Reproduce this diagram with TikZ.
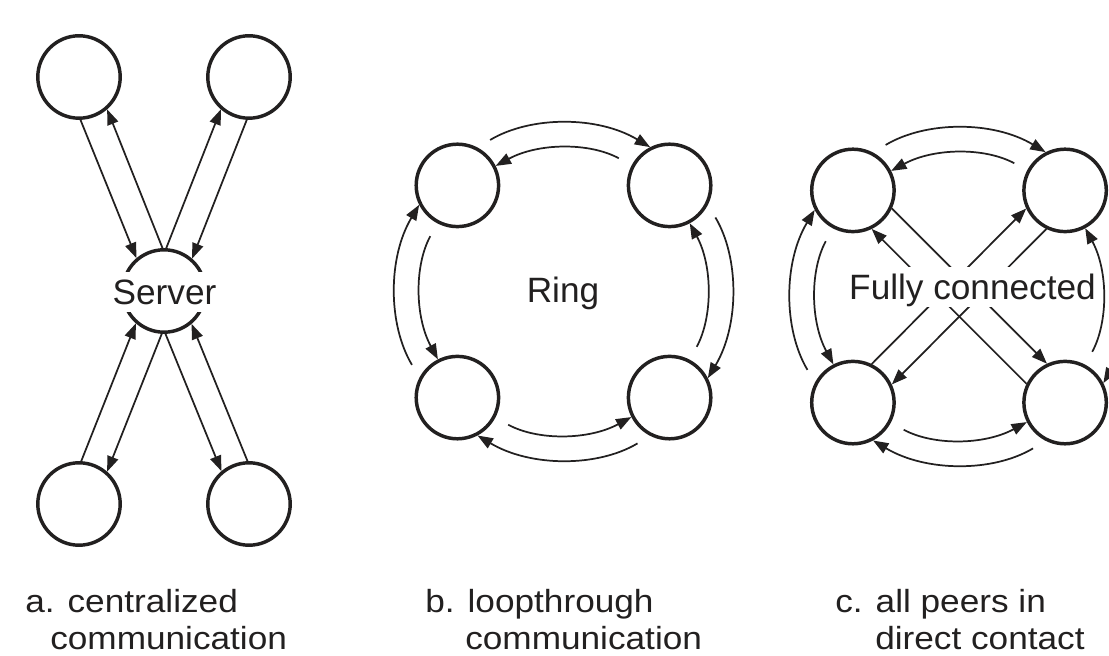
\documentclass[tikz,border=0pt]{standalone}
\usepackage{fontspec}
\setmainfont{Liberation Sans}
\newfontfamily\capfont[FakeStretch=1.1]{Liberation Sans}
\usetikzlibrary{arrows.meta}
\definecolor{ink}{RGB}{34,32,32}
\begin{document}
\begin{tikzpicture}[x=0.75pt,y=0.75pt,
  peer/.style={circle, draw=ink, line width=2.6pt, minimum size=61.8pt, inner sep=0pt},
  arr/.style={draw=ink, line width=1.3pt, -{Triangle[length=11.5pt,width=8.5pt]}},
  ringarc/.style={arr, looseness=0.91, shorten <=11pt},
  lbl/.style={font=\fontsize{26.4pt}{30pt}\selectfont, text=ink, inner sep=0pt},
  lblbox/.style={lbl, fill=white, text height=24.75pt, text depth=5.5pt, inner ysep=0pt},
  captext/.style={font=\capfont\fontsize{24pt}{28pt}\selectfont, text=ink, inner sep=0pt, anchor=base west}]
\useasboundingbox (0,0) rectangle (1109,656);
\clip (0,0) rectangle (1109,656);
\fill[white] (0,0) rectangle (1109,656);

% ---------- panel a: centralized ----------
\node[peer] (aTL) at (79,579) {};
\node[peer] (aTR) at (249,579) {};
\node[peer] (aS)  at (164,365) {};
\node[peer] (aBL) at (79,152) {};
\node[peer] (aBR) at (249,152) {};
\draw[arr] (aS.92.67)  -- (aTL.-49.33);
\draw[arr] (aTL.272.67) -- (aS.130.67);
\draw[arr] (aS.87.33)  -- (aTR.229.33);
\draw[arr] (aTR.267.33) -- (aS.49.33);
\draw[arr] (aS.267.33) -- (aBL.49.33);
\draw[arr] (aBL.87.33) -- (aS.229.33);
\draw[arr] (aS.272.67) -- (aBR.130.67);
\draw[arr] (aBR.92.67) -- (aS.310.67);
\node[lblbox, inner xsep=2pt, anchor=base] (aSt) at (164.5,351) {Server};

% ---------- panel b: ring ----------
\node[peer] (bTL) at (457.4,470.6) {};
\node[peer] (bTR) at (669.6,470.6) {};
\node[peer] (bBL) at (457.4,258.4) {};
\node[peer] (bBR) at (669.6,258.4) {};
\draw[ringarc] (bTL.62.5)  to[out=30.9,  in=149.1] (bTR.117.5);
\draw[ringarc] (bTR.-27.5) to[out=-59.1, in=59.1]  (bBR.27.5);
\draw[ringarc] (bBR.-117.5) to[out=-149.1, in=-30.9] (bBL.-62.5);
\draw[ringarc] (bBL.152.5) to[out=120.9, in=239.1] (bTL.207.5);
\draw[ringarc] (bTR.152.6) to[out=151.6, in=28.4]  (bTL.27.4);
\draw[ringarc] (bTL.242.6) to[out=241.6, in=118.4] (bBL.117.4);
\draw[ringarc] (bBL.332.6) to[out=331.6, in=208.4] (bBR.207.4);
\draw[ringarc] (bBR.62.6)  to[out=61.6,  in=-61.6] (bTR.-62.6);
\node[lbl, anchor=base] (bRt) at (563,353) {Ring};

% ---------- panel c: fully connected ----------
\node[peer] (cTL) at (852.9,465.6) {};
\node[peer] (cTR) at (1065.1,465.6) {};
\node[peer] (cBL) at (852.9,253.4) {};
\node[peer] (cBR) at (1065.1,253.4) {};
\draw[ringarc] (cTL.62.5)  to[out=30.9,  in=149.1] (cTR.117.5);
\draw[ringarc] (cTR.-27.5) to[out=-59.1, in=59.1]  (cBR.27.5);
\draw[ringarc] (cBR.-117.5) to[out=-149.1, in=-30.9] (cBL.-62.5);
\draw[ringarc] (cBL.152.5) to[out=120.9, in=239.1] (cTL.207.5);
\draw[ringarc] (cTR.152.6) to[out=151.6, in=28.4]  (cTL.27.4);
\draw[ringarc] (cTL.242.6) to[out=241.6, in=118.4] (cBL.117.4);
\draw[ringarc] (cBL.332.6) to[out=331.6, in=208.4] (cBR.207.4);
\draw[ringarc] (cBR.62.6)  to[out=61.6,  in=-61.6] (cTR.-62.6);
\draw[arr] (cTL.-25.8) -- (cBR.115.8);
\draw[arr] (cBR.154.2) -- (cTL.-64.2);
\draw[arr] (cBL.64.2)  -- (cTR.205.8);
\draw[arr] (cTR.244.2) -- (cBL.25.8);
\node[lblbox, inner xsep=3pt, anchor=base] (cFt) at (972.5,356) {Fully connected};

% ---------- captions ----------
\node[captext] (capa1) at (25,43) {a. centralized};
\node[captext] (capa2) at (50,6) {communication};
\node[captext] (capb1) at (425,43) {b. loopthrough};
\node[captext] (capb2) at (465,6) {communication};
\node[captext] (capc1) at (835,43) {c. all peers in};
\node[captext] (capc2) at (875,6) {direct contact};
\end{tikzpicture}
\end{document}
